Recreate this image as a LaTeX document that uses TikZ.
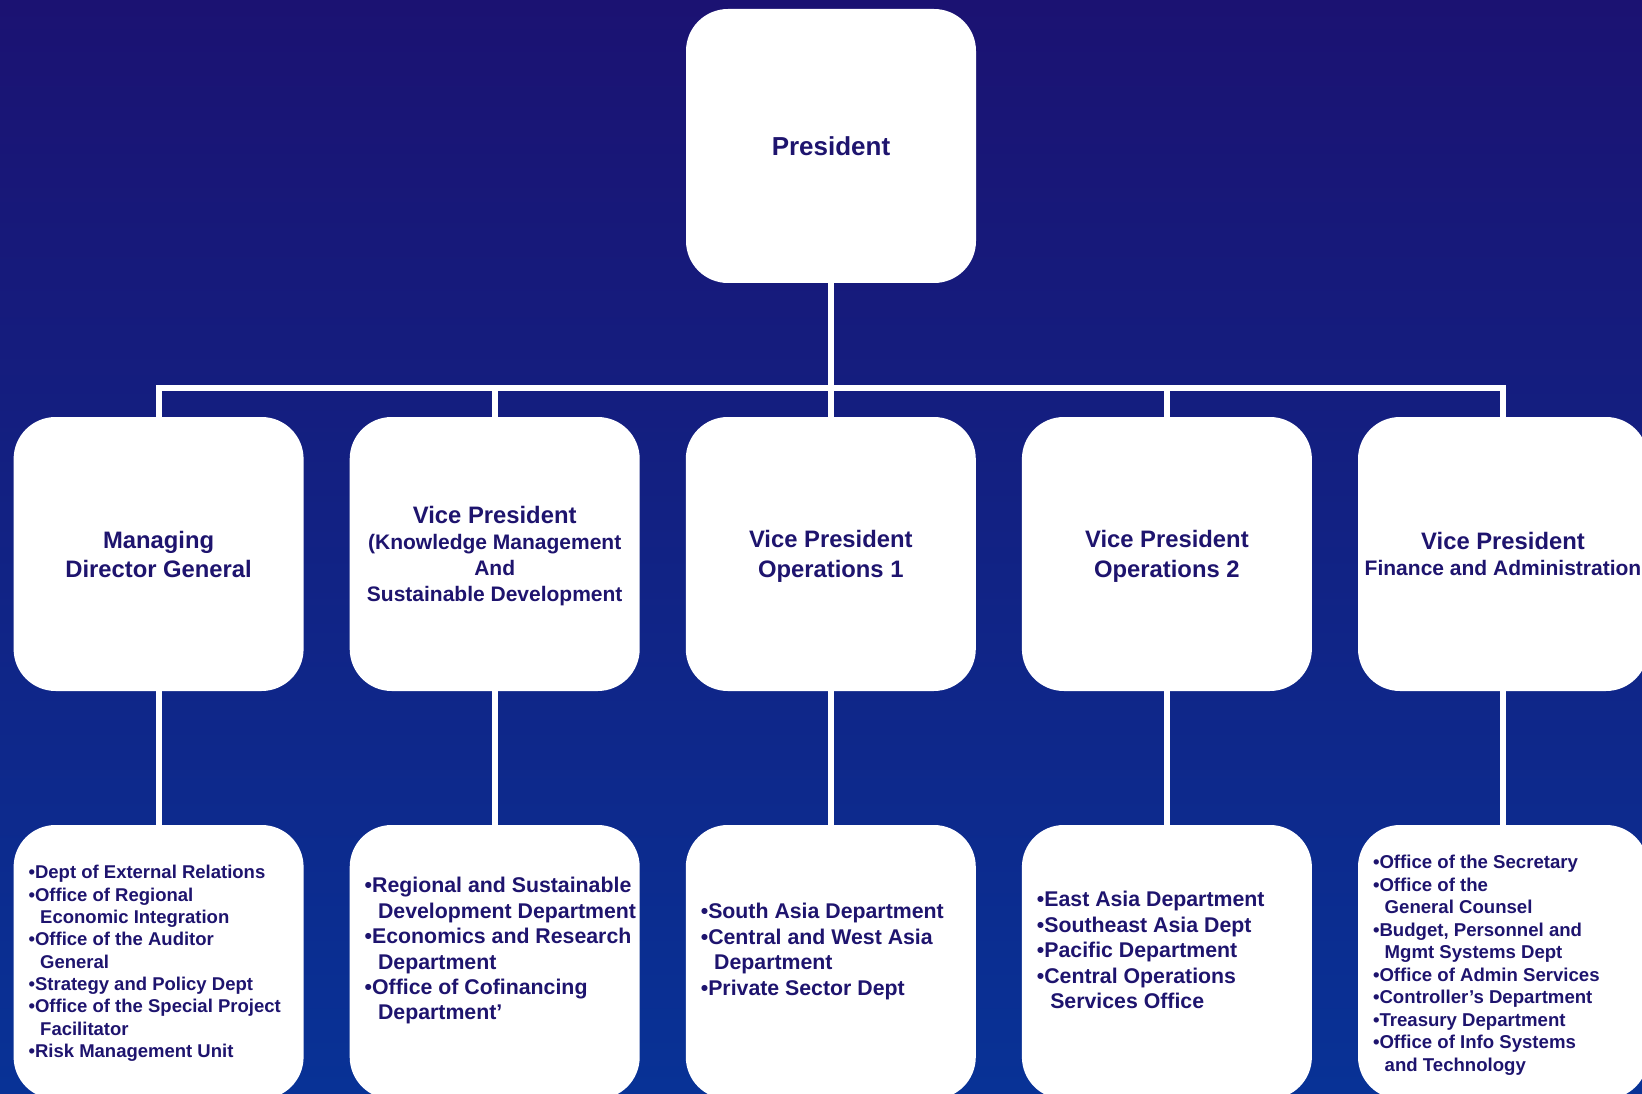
\documentclass[tikz,border=0pt]{standalone}
\usepackage{fontspec}
\setmainfont{Liberation Sans}
\usetikzlibrary{calc}
\definecolor{ink}{RGB}{30,20,110}
\definecolor{bgtop}{RGB}{27,18,114}
\definecolor{bgbot}{RGB}{8,50,150}
\newcommand\ind{\phantom{•}\ }
\newcommand\fs[2]{\fontsize{#1}{#2}\selectfont}

\begin{document}
\begin{tikzpicture}[x=1pt,y=-1pt,
    box/.style={fill=white,rounded corners=42pt,minimum width=290pt,minimum height=274pt,
      inner sep=0pt,align=center,text=ink,text depth=0pt},
    list/.style={anchor=north west,align=left,inner sep=0pt,text=ink},
    link/.style={draw=white,line width=6pt}]
  \useasboundingbox (0,0) rectangle (1642,1094);
  \clip (0,0) rectangle (1642,1094);
  \fill[top color=bgtop,bottom color=bgbot] (0,0) rectangle (1642,1094);

  \node[box,font=\bfseries\fs{26}{31}] (pres) at (831,146) {President};
  \node[box,font=\bfseries\fs{23.8}{29}] (v1) at (158.6,554) {Managing\\Director General};
  \node[box,font=\bfseries\fs{21}{26}] (v2) at (494.7,554)
    {{\fs{23.8}{26}Vice President}\\(Knowledge Management\\And\\Sustainable Development};
  \node[box,font=\bfseries\fs{23.8}{29.5}] (v3) at (830.8,554) {Vice President\\Operations 1};
  \node[box,font=\bfseries\fs{23.8}{29.5}] (v4) at (1166.9,554) {Vice President\\Operations 2};
  \node[box,font=\bfseries\fs{21}{26}] (v5) at (1503,554)
    {{\fs{23.8}{26}Vice President}\\Finance and Administration};
  \foreach \i in {1,...,5}
    \node[box] (d\i) at (v\i |- 0,962) {};

  \coordinate (bus) at (831,387.5);
  \draw[link] (pres.south) -- (bus);
  \draw[link] (v1.north) |- (bus) -| (v5.north);
  \foreach \i in {2,3,4}
    \draw[link] (bus -| v\i.north) -- (v\i.north);
  \foreach \i in {1,...,5}
    \draw[link] (v\i.south) -- (d\i.north);

  \node[list,font=\bfseries\fs{18.5}{22.3}] (t1) at ($(d1.north west)+(15,40.5)$)
    {•Dept of External Relations\\•Office of Regional\\\ind Economic Integration\\
     •Office of the Auditor\\\ind General\\•Strategy and Policy Dept\\
     •Office of the Special Project\\\ind Facilitator\\•Risk Management Unit};
  \node[list,font=\bfseries\fs{21.3}{25.4}] (t2) at ($(d2.north west)+(15,52.5)$)
    {•Regional and Sustainable\\\ind Development Department\\•Economics and Research\\
     \ind Department\\•Office of Cofinancing\\\ind Department’};
  \node[list,font=\bfseries\fs{21.3}{25.4}] (t3) at ($(d3.north west)+(15,78.5)$)
    {•South Asia Department\\•Central and West Asia\\\ind Department\\•Private Sector Dept};
  \node[list,font=\bfseries\fs{21.3}{25.4}] (t4) at ($(d4.north west)+(15,66.5)$)
    {•East Asia Department\\•Southeast Asia Dept\\•Pacific Department\\
     •Central Operations\\\ind Services Office};
  \node[list,font=\bfseries\fs{18.6}{22.5}] (t5) at ($(d5.north west)+(15,30.5)$)
    {•Office of the Secretary\\•Office of the\\\ind General Counsel\\
     •Budget, Personnel and\\\ind Mgmt Systems Dept\\•Office of Admin Services\\
     •Controller’s Department\\•Treasury Department\\•Office of Info Systems\\
     \ind and Technology};
\end{tikzpicture}
\end{document}
